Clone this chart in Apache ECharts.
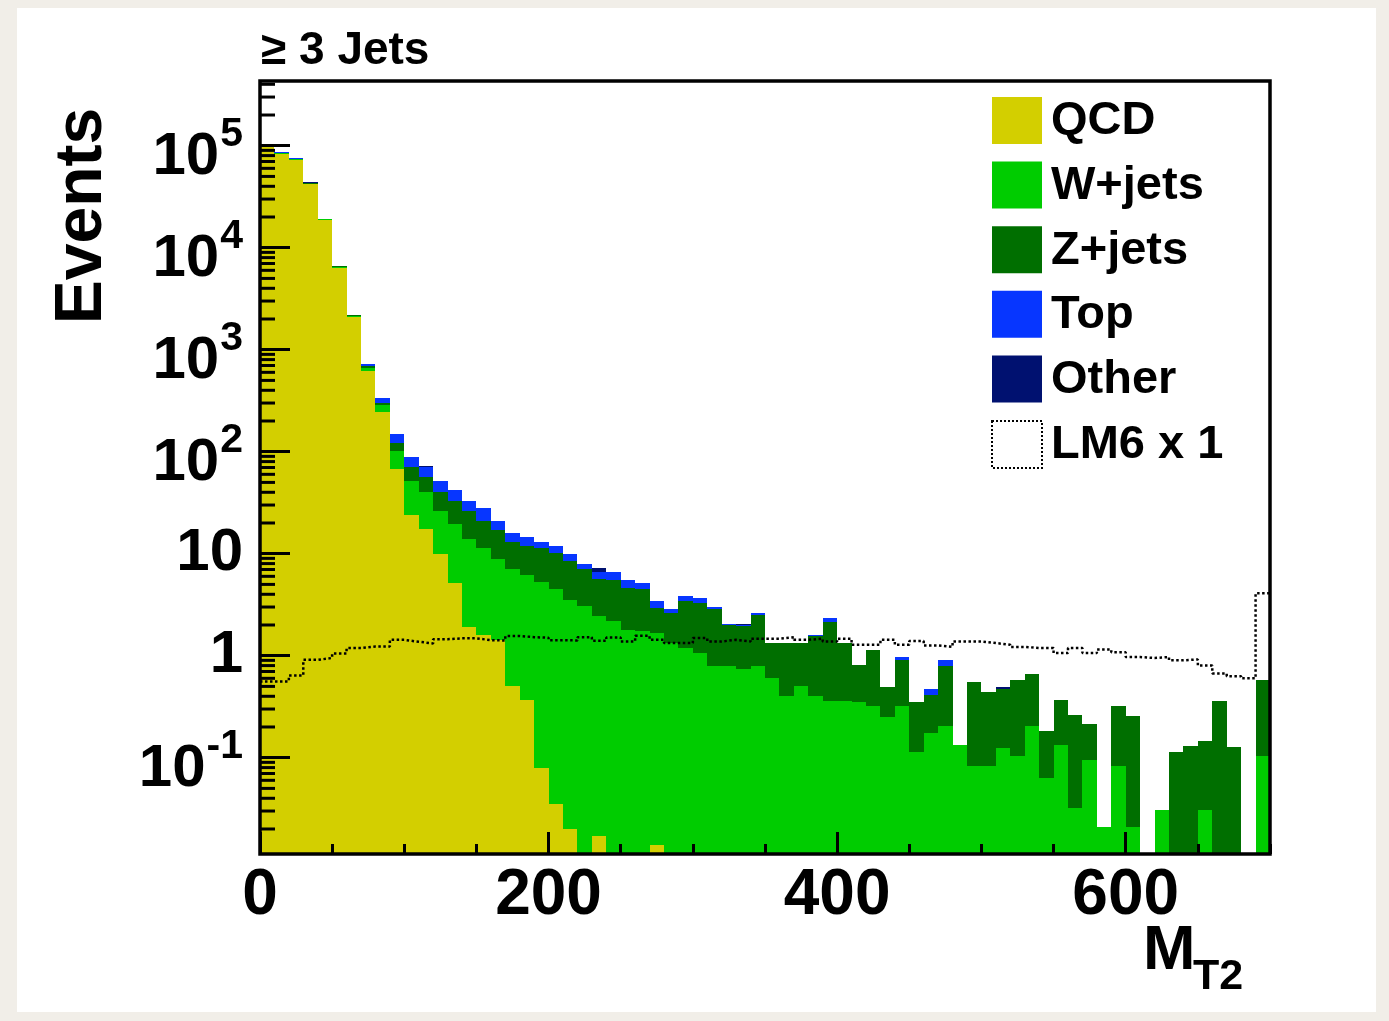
<!DOCTYPE html>
<html>
<head>
<meta charset="utf-8">
<script src="https://cdn.jsdelivr.net/npm/echarts@6/dist/echarts.min.js"></script>
<style>
  html, body { margin: 0; padding: 0; background: #f1eee8; }
  #card { position: absolute; left: 17px; top: 8px; width: 1359px; height: 1004px; background: #fff; }
  #chart { position: absolute; left: 0; top: 0; width: 1389px; height: 1021px; }
</style>
</head>
<body>
<div id="card"></div>
<div id="chart"></div>
<script>
// M_T2 histogram, 70 bins of 10 from 0 to 700
const binWidth = 10;
const nBins = 70;
const binLow = [];
for (let i = 0; i < nBins; i++) binLow.push(i * binWidth);

const qcd = [97000, 83500, 73000, 42000, 18900, 6350, 2080, 613, 243, 68,
  24.1, 17.6, 9.9, 5.2, 1.9, 1.6, 1.43, 0.51, 0.37, 0.079,
  0.035, 0.020, 0, 0.017, 0, 0, 0, 0.014, 0, 0,
  0, 0, 0, 0, 0, 0, 0, 0, 0, 0,
  0, 0, 0, 0, 0, 0, 0, 0, 0, 0,
  0, 0, 0, 0, 0, 0, 0, 0, 0, 0,
  0, 0, 0, 0, 0, 0, 0, 0, 0, 0];
const wjets = [800, 900, 800, 500, 150, 180, 40, 53, 41, 34,
  27.1, 22.7, 16.1, 14.5, 12.0, 9.8, 7.5, 6.57, 5.75, 5.15,
  4.47, 3.52, 3.09, 2.41, 2.17, 1.80, 1.73, 1.66, 1.33, 1.19,
  1.06, 0.786, 0.786, 0.741, 0.786, 0.605, 0.399, 0.50, 0.399, 0.356,
  0.356, 0.348, 0.318, 0.251, 0.318, 0.115, 0.175, 0.205, 0.134, 0.082,
  0.082, 0.125, 0.105, 0.203, 0.063, 0.132, 0.032, 0.094, 0.021, 0.082,
  0.021, 0, 0.031, 0, 0, 0.031, 0, 0, 0, 0.103];
const zjets = [400, 500, 500, 700, 100, 40, 60, 26, 16, 20,
  19.6, 16.2, 14.3, 13.1, 12.1, 9.7, 8.3, 5.9, 5.7, 6.2,
  5.7, 4.87, 4.04, 3.26, 3.39, 2.8, 2.78, 1.29, 1.29, 2.22,
  2.23, 2.08, 1.22, 1.20, 1.73, 0.725, 0.93, 0.83, 1.15, 1.76,
  0.97, 0.468, 0.83, 0.238, 0.581, 0.233, 0.24, 0.58, 0, 0.47,
  0.359, 0.35, 0.468, 0.459, 0.118, 0.239, 0.232, 0.122, 0, 0.241,
  0.237, 0, 0, 0.115, 0.129, 0.116, 0.356, 0.127, 0, 0.479];
const topq = [300, 1800, 1500, 350, 50, 25, 15, 25, 38, 27,
  17.9, 13.7, 10.9, 9.0, 6.8, 7.0, 3.9, 3.0, 2.8, 1.6,
  1.6, 1.6, 0.79, 0.87, 1.0, 0.96, 0.65, 0.45, 0.27, 0.40,
  0.39, 0.11, 0.05, 0.05, 0.10, 0, 0, 0, 0.06, 0.22,
  0, 0, 0, 0, 0.063, 0, 0.056, 0.12, 0, 0,
  0, 0, 0, 0, 0, 0, 0, 0, 0, 0,
  0, 0, 0, 0, 0, 0, 0, 0, 0, 0];
const other = [50, 300, 200, 50, 10, 5, 3, 0, 0, 0,
  0, 2.7, 0, 0, 0, 0, 0, 0, 0, 0,
  0, 0, 0, 0.69, 0, 0, 0, 0, 0, 0,
  0, 0, 0, 0.05, 0, 0, 0, 0, 0, 0,
  0, 0, 0, 0, 0, 0, 0, 0, 0, 0,
  0, 0.014, 0, 0, 0, 0, 0, 0, 0, 0,
  0, 0, 0, 0, 0, 0, 0, 0, 0, 0];
const lm6 = [0.56, 0.56, 0.64, 0.91, 0.95, 1.05, 1.19, 1.23, 1.23, 1.43,
  1.37, 1.32, 1.45, 1.48, 1.48, 1.42, 1.41, 1.56, 1.52, 1.50,
  1.42, 1.41, 1.52, 1.40, 1.51, 1.38, 1.57, 1.43, 1.33, 1.33,
  1.49, 1.38, 1.43, 1.38, 1.47, 1.47, 1.52, 1.43, 1.47, 1.38,
  1.47, 1.28, 1.28, 1.43, 1.28, 1.39, 1.26, 1.22, 1.38, 1.38,
  1.33, 1.28, 1.22, 1.19, 1.19, 1.06, 1.19, 1.06, 1.15, 1.08,
  0.97, 0.95, 0.97, 0.90, 0.92, 0.80, 0.67, 0.63, 0.60, 4.1];

const names = ['QCD', 'W+jets', 'Z+jets', 'Top', 'Other'];
const colors = ['#d3cf00', '#00cc00', '#006f00', '#0736ff', '#001170'];
const components = [qcd, wjets, zjets, topq, other];
const xLabels = [0, 200, 400, 600];

const yMin = 0.01137;
const yMax = 4.31e5;
const font = '"Liberation Sans", Arial, Helvetica, sans-serif';

// minor ticks of the log axis (2..9 x 10^n)
const minorY = [];
for (let n = -2; n <= 5; n++) {
  for (let m = 2; m <= 9; m++) {
    const v = m * Math.pow(10, n);
    if (v > yMin && v < yMax) minorY.push(v);
  }
}

const myChart = echarts.init(document.getElementById('chart'));

function stackSeries(idx) {
  const data = binLow.map((lo, i) => {
    let below = 0;
    for (let k = 0; k < idx; k++) below += components[k][i];
    return [lo, lo + binWidth, Math.max(below, yMin), below + components[idx][i]];
  });
  return {
    type: 'custom',
    name: names[idx],
    itemStyle: { color: colors[idx] },
    z: 2,
    silent: true,
    encode: { x: [0, 1], y: [2, 3] },
    data: data,
    renderItem: function (params, api) {
      if (components[idx][params.dataIndex] <= 0) return;
      const hi = api.value(3);
      if (hi <= yMin) return;
      const p0 = api.coord([api.value(0), api.value(2)]);
      const p1 = api.coord([api.value(1), hi]);
      const x0 = Math.round(p0[0]), x1 = Math.round(p1[0]);
      const yb = Math.round(p0[1]), yt = Math.round(p1[1]);
      const rect = echarts.graphic.clipRectByRect(
        { x: x0, y: yt, width: x1 - x0, height: yb - yt }, params.coordSys);
      if (!rect) return;
      return { type: 'rect', shape: rect, style: { fill: colors[idx] } };
    }
  };
}

const series = components.map((c, i) => stackSeries(i));

const lmData = binLow.map((lo, i) => [lo, lm6[i]]);
lmData.push([nBins * binWidth, lm6[nBins - 1]]);
series.push({
  type: 'line',
  name: 'LM6 x 1',
  step: 'end',
  symbol: 'none',
  z: 4,
  silent: true,
  lineStyle: { color: '#000', width: 2.5, type: [2.5, 2.5] },
  itemStyle: { color: '#fff' },
  data: lmData
});

series.push({
  type: 'custom',
  name: 'minorTicks',
  z: 11,
  silent: true,
  data: minorY.map(v => [0, v]),
  renderItem: function (params, api) {
    const p = api.coord([0, api.value(1)]);
    return {
      type: 'line',
      shape: { x1: p[0], y1: p[1], x2: p[0] + 15, y2: p[1] },
      style: { stroke: '#000', lineWidth: 3 }
    };
  }
});

const option = {
  animation: false,
  grid: {
    left: 260, top: 81, width: 1010, height: 773,
    show: true, borderColor: '#000', borderWidth: 3.5,
    backgroundColor: 'transparent', z: 10
  },
  legend: {
    orient: 'vertical', left: 991, top: 97,
    itemWidth: 50, itemHeight: 47, itemGap: 16.6, padding: 0,
    icon: 'rect', selectedMode: false,
    formatter: name => '{t|' + name + '}',
    textStyle: {
      color: '#000',
      rich: {
        t: { fontSize: 47, fontWeight: 'bold', fontFamily: font, color: '#000',
             lineHeight: 47, verticalAlign: 'top', padding: [1, 0, 0, 4] }
      }
    },
    data: [
      { name: 'QCD' }, { name: 'W+jets' }, { name: 'Z+jets' }, { name: 'Top' }, { name: 'Other' },
      { name: 'LM6 x 1', icon: 'rect',
        itemStyle: { color: '#fff', borderColor: '#000', borderWidth: 2, borderType: [2, 2] } }
    ]
  },
  xAxis: [{
    type: 'value', min: 0, max: 700, interval: 200, position: 'bottom', z: 10,
    axisLine: { show: false },
    splitLine: { show: false },
    axisTick: { inside: true, length: 22, lineStyle: { color: '#000', width: 3 } },
    axisLabel: {
      showMaxLabel: false, margin: 10, color: '#000',
      fontSize: 64, fontWeight: 'bold', fontFamily: font,
      formatter: v => (xLabels.indexOf(v) >= 0 ? String(v) : '')
    }
  }, {
    type: 'value', min: 0, max: 700, interval: 50, position: 'bottom', z: 10,
    axisLine: { show: false },
    splitLine: { show: false },
    axisLabel: { show: false },
    axisTick: { inside: true, length: 10, lineStyle: { color: '#000', width: 3 } }
  }],
  yAxis: {
    type: 'log', logBase: 10, min: yMin, max: yMax, z: 10,
    axisLine: { show: false },
    splitLine: { show: false },
    axisTick: { inside: true, length: 30, lineStyle: { color: '#000', width: 3 } },
    axisLabel: {
      showMinLabel: false, showMaxLabel: false, margin: 17,
      formatter: function (v) {
        const e = Math.round(Math.log10(v));
        if (e === 0) return '{c|1}';
        if (e === 1) return '{c|10}';
        return '{b|10}{s|' + e + '}';
      },
      rich: {
        c: { fontSize: 60, fontWeight: 'bold', fontFamily: font, color: '#000', lineHeight: 70 },
        b: { fontSize: 60, fontWeight: 'bold', fontFamily: font, color: '#000', lineHeight: 84,
             verticalAlign: 'bottom' },
        s: { fontSize: 41, fontWeight: 'bold', fontFamily: font, color: '#000', lineHeight: 40,
             verticalAlign: 'top', padding: [10, 0, 0, 1] }
      }
    }
  },
  graphic: [
    { type: 'text', x: 83, y: 216, rotation: Math.PI / 2,
      style: { text: 'Events', fontSize: 66, fontWeight: 'bold', fontFamily: font, fill: '#000',
               align: 'center', verticalAlign: 'middle' } },
    { type: 'text', x: 261, y: 51,
      style: { text: '\u2265 3 Jets', fontSize: 46, fontWeight: 'bold', fontFamily: font, fill: '#000',
               align: 'left', verticalAlign: 'middle' } },
    { type: 'text', x: 1143, y: 952,
      style: { text: 'M', fontSize: 63, fontWeight: 'bold', fontFamily: font, fill: '#000',
               align: 'left', verticalAlign: 'middle' } },
    { type: 'text', x: 1193, y: 977,
      style: { text: 'T2', fontSize: 43, fontWeight: 'bold', fontFamily: font, fill: '#000',
               align: 'left', verticalAlign: 'middle' } }
  ],
  series: series
};

myChart.setOption(option);
</script>
</body>
</html>
